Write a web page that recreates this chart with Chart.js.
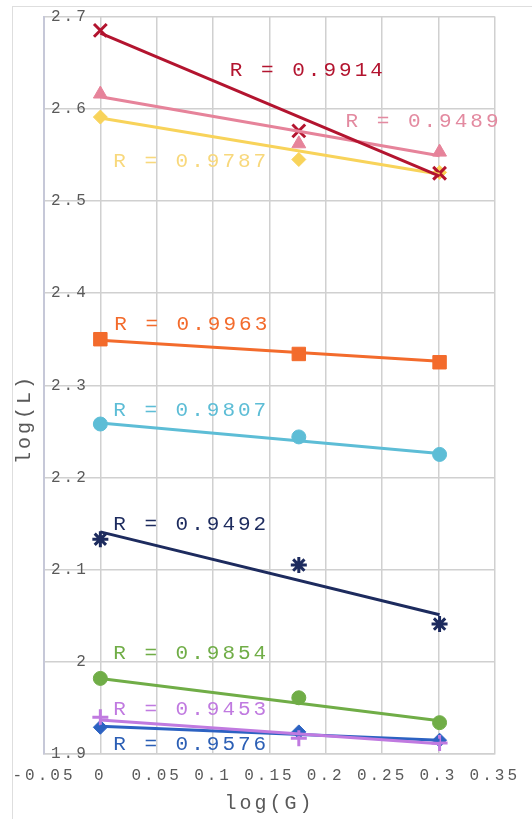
<!DOCTYPE html>
<html lang="es">
  <head>
    <meta charset="UTF-8" />
    <title>log(L) vs log(G)</title>
    <style>
      html, body { margin: 0; padding: 0; background: #fff; }
      .frame {
        position: absolute; left: 12px; top: 6px;
        width: 560px; height: 840px;
        border: 1px solid #dedede;
      }
      .wrap { position: absolute; left: 0; top: 0; width: 532px; height: 819px; }
    </style>
  </head>
  <body>
    <div class="frame"></div>
    <div class="wrap"><canvas id="logChart"></canvas></div>

    <script src="https://cdn.jsdelivr.net/npm/chart.js"></script>
    <script>
      // x = log(G)
      const logG = [0, 0.1761, 0.301];

      // log(L), one array per series
      const serie9914 = [2.685, 2.576, 2.530];
      const serie9489 = [2.616, 2.562, 2.553];
      const serie9787 = [2.591, 2.545, 2.531];
      const serie9963 = [2.350, 2.334, 2.325];
      const serie9807 = [2.258, 2.244, 2.225];
      const serie9492 = [2.133, 2.105, 2.041];
      const serie9854 = [1.982, 1.961, 1.934];
      const serie9453 = [1.940, 1.917, 1.912];
      const serie9576 = [1.929, 1.924, 1.915];

      // trend lines (start at log(G)=0, end at log(G)=0.301)
      const trendX = [0, 0.301];
      const trend9914 = [2.682, 2.527];
      const trend9489 = [2.613, 2.549];
      const trend9787 = [2.590, 2.529];
      const trend9963 = [2.349, 2.326];
      const trend9807 = [2.259, 2.226];
      const trend9492 = [2.141, 2.051];
      const trend9854 = [1.982, 1.936];
      const trend9453 = [1.937, 1.911];
      const trend9576 = [1.930, 1.915];

      const rLabels = ['R = 0.9914', 'R = 0.9489', 'R = 0.9787', 'R = 0.9963', 'R = 0.9807',
        'R = 0.9492', 'R = 0.9854', 'R = 0.9453', 'R = 0.9576'];
      const rLabelX = [0.1149, 0.2175, 0.0114, 0.0123, 0.0114, 0.0114, 0.0114, 0.0114, 0.0114];
      const rLabelY = [2.6415, 2.5862, 2.5428, 2.3661, 2.2724, 2.1493, 2.0095, 1.9482, 1.9103];

      const xTicks = [-0.05, 0, 0.05, 0.1, 0.15, 0.2, 0.25, 0.3, 0.35];
      const xTickLabels = ['-0.05', '0', '0.05', '0.1', '0.15', '0.2', '0.25', '0.3', '0.35'];
      const yTicks = [1.9, 2.0, 2.1, 2.2, 2.3, 2.4, 2.5, 2.6, 2.7];
      const yTickLabels = ['1.9', '2', '2.1', '2.2', '2.3', '2.4', '2.5', '2.6', '2.7'];

      const series = [
        { vals: serie9914, trend: trend9914, color: '#b3142f', text: '#b3142f', style: 'crossRot', r: 9, bw: 3 },
        { vals: serie9489, trend: trend9489, color: '#e6839a', text: '#e38aa0', style: 'triangle', r: 8, bw: 1 },
        { vals: serie9787, trend: trend9787, color: '#f8d35a', text: '#f8d87c', style: 'rectRot', r: 7, bw: 1 },
        { vals: serie9963, trend: trend9963, color: '#f36b2c', text: '#f36b2c', style: 'rect', r: 9.5, bw: 1 },
        { vals: serie9807, trend: trend9807, color: '#5dbdd6', text: '#5dbdd6', style: 'circle', r: 7, bw: 1 },
        { vals: serie9492, trend: trend9492, color: '#1d2b5e', text: '#1d2b5e', style: 'star', r: 8, bw: 3 },
        { vals: serie9854, trend: trend9854, color: '#70ad47', text: '#70ad47', style: 'circle', r: 7, bw: 1 },
        { vals: serie9453, trend: trend9453, color: '#c07ae0', text: '#c07ae0', style: 'cross', r: 8, bw: 3 },
        { vals: serie9576, trend: trend9576, color: '#2c62c2', text: '#2c5fb5', style: 'rectRot', r: 7, bw: 1 },
      ];

      const trendSets = series.map((s) => ({
        type: 'line',
        data: trendX.map((x, i) => ({ x: x, y: s.trend[i] })),
        borderColor: s.color,
        borderWidth: 3,
        pointRadius: 0,
        fill: false,
      }));

      const pointSets = series.map((s) => ({
        type: 'scatter',
        data: logG.map((x, i) => ({ x: x, y: s.vals[i] })),
        pointStyle: s.style,
        pointRadius: s.r,
        borderColor: s.color,
        backgroundColor: s.color,
        borderWidth: s.bw,
        showLine: false,
      }));

      const monoFont = '"Liberation Mono", "DejaVu Sans Mono", monospace';

      const rLabelPlugin = {
        id: 'rLabels',
        beforeLayout(chart) { chart.ctx.letterSpacing = '3px'; },
        beforeDraw(chart) { chart.ctx.letterSpacing = '3px'; },
        afterDraw(chart) {
          const { ctx, scales: { x, y } } = chart;
          ctx.save();
          ctx.letterSpacing = '3px';
          ctx.font = '21px ' + monoFont;
          ctx.textAlign = 'left';
          ctx.textBaseline = 'middle';
          rLabels.forEach((t, i) => {
            ctx.fillStyle = series[i].text;
            ctx.fillText(t, x.getPixelForValue(rLabelX[i]), y.getPixelForValue(rLabelY[i]));
          });
          // y axis title
          ctx.translate(25, 419);
          ctx.rotate(-Math.PI / 2);
          ctx.font = '20px ' + monoFont;
          ctx.fillStyle = '#595959';
          ctx.textAlign = 'center';
          ctx.fillText('log(L)', 0, 0);
          ctx.restore();
        },
      };

      const ctx = document.getElementById('logChart').getContext('2d');
      const logChart = new Chart(ctx, {
        data: { datasets: [...trendSets, ...pointSets] },
        options: {
          responsive: true,
          maintainAspectRatio: false,
          animation: false,
          layout: { padding: { left: 44, right: 32, top: 16, bottom: 0 } },
          plugins: { legend: { display: false }, tooltip: { enabled: false } },
          scales: {
            x: {
              type: 'linear',
              min: -0.05,
              max: 0.35,
              afterFit: (scale) => { scale.height = 65; },
              afterBuildTicks: (scale) => { scale.ticks = xTicks.map((v) => ({ value: v })); },
              grid: { color: '#d0d0d0', lineWidth: 1.5, drawTicks: false },
              border: { color: '#d0d0d0', width: 1.5 },
              ticks: {
                padding: 12,
                color: '#5a5a5a',
                font: { family: monoFont, size: 16 },
                maxRotation: 0,
                autoSkip: false,
                callback: (v, i) => xTickLabels[i],
              },
              title: {
                display: true,
                text: 'log(G)',
                color: '#595959',
                font: { family: monoFont, size: 20 },
                padding: { top: 0, bottom: 3 },
              },
            },
            y: {
              type: 'linear',
              min: 1.9,
              max: 2.7,
              afterFit: (scale) => { scale.width = 0; },
              afterBuildTicks: (scale) => { scale.ticks = yTicks.map((v) => ({ value: v })); },
              grid: { color: '#d0d0d0', lineWidth: 1.5, drawTicks: false },
              border: { color: '#c6c8d8', width: 2 },
              ticks: {
                mirror: true,
                crossAlign: 'far',
                padding: 7,
                color: '#5a5a5a',
                font: { family: monoFont, size: 16 },
                autoSkip: false,
                callback: (v, i) => yTickLabels[i],
              },
            },
          },
        },
        plugins: [rLabelPlugin],
      });
    </script>
  </body>
</html>
